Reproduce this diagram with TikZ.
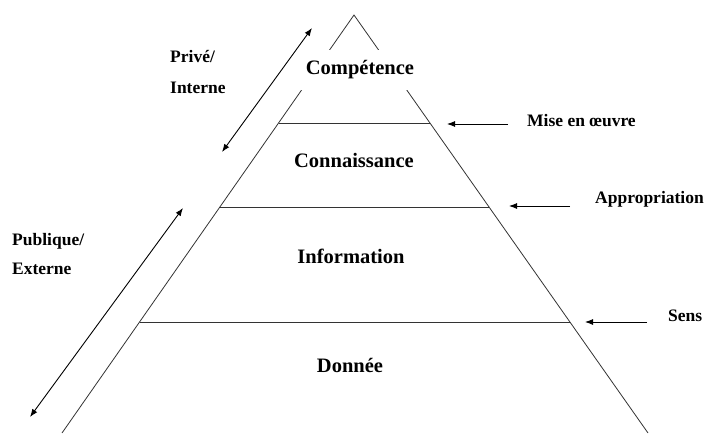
\documentclass[tikz,border=0pt]{standalone}
\usepackage{fontspec}
\setmainfont{Liberation Serif}
\usetikzlibrary{arrows.meta,calc}

\tikzset{
  edge/.style={line width=0.8pt, draw=black!80},
  pointer/.style={line width=0.9pt, draw=black, -{Latex[length=8pt,width=6pt]}},
  both/.style={line width=0.9pt, draw=black, {Latex[length=8pt,width=6pt]}-{Latex[length=8pt,width=6pt]}},
  level/.style={font=\bfseries\fontsize{20.5}{24}\selectfont, inner sep=0pt, anchor=base},
  side/.style={font=\bfseries\fontsize{17.5}{20}\selectfont, inner sep=0pt, anchor=base west},
}

\begin{document}
\begin{tikzpicture}[x=1pt,y=-1pt]
  \useasboundingbox (0,0) rectangle (705,434);

  % pyramid outline
  \coordinate (apex) at (354,15);
  \coordinate (bl) at (62,433);
  \coordinate (br) at (648,433);
  \draw[edge] (bl) -- (apex) -- (br);

  % layer boundaries
  \draw[edge] ($(apex)!0.2584!(bl)$) -- ($(apex)!0.2584!(br)$);
  \draw[edge] ($(apex)!0.4593!(bl)$) -- ($(apex)!0.4593!(br)$);
  \draw[edge] ($(apex)!0.7344!(bl)$) -- ($(apex)!0.7344!(br)$);

  % layer names
  \node[font=\bfseries\fontsize{20.5}{24}\selectfont, fill=white, inner sep=0pt,
        minimum width=118pt, minimum height=40pt] (comp) at (360,70) {Compétence};
  \node[level] (conn) at (354,167) {Connaissance};
  \node[level] (info) at (351,263) {Information};
  \node[level] (donn) at (350,372) {Donnée};

  % transitions between layers
  \node[side] (mise) at (527,126) {Mise en œuvre};
  \node[side] (appr) at (595,203) {Appropriation};
  \node[side] (sens) at (668,321) {Sens};
  \coordinate (mise1) at (508,124);
  \coordinate (mise2) at (447,124);
  \coordinate (appr1) at (570,206);
  \coordinate (appr2) at (509,206);
  \coordinate (sens1) at (647,322);
  \coordinate (sens2) at (585,322);
  \draw[pointer] (mise1) -- (mise2);
  \draw[pointer] (appr1) -- (appr2);
  \draw[pointer] (sens1) -- (sens2);

  % private / public scope
  \node[side] (priv) at (170,62) {Privé/};
  \node[side] (inte) at (170,93) {Interne};
  \node[side] (publ) at (12,245) {Publique/};
  \node[side] (exte) at (12,274) {Externe};
  \coordinate (up1) at (312,28);
  \coordinate (up2) at (222,152);
  \coordinate (lo1) at (183,208);
  \coordinate (lo2) at (30,417);
  \draw[both] (up2) -- (up1);
  \draw[both] (lo2) -- (lo1);
\end{tikzpicture}
\end{document}
